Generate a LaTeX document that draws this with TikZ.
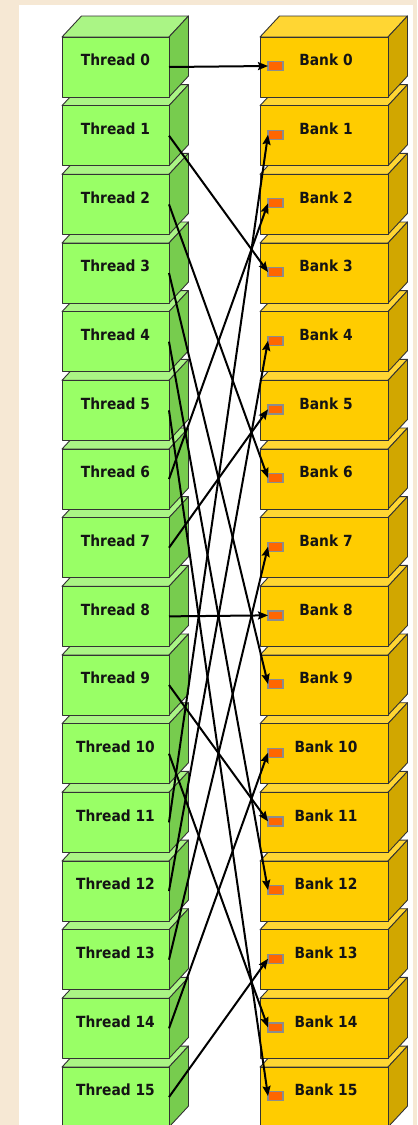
\documentclass[tikz,border=0pt]{standalone}
\usepackage{fontspec}
\setmainfont{DejaVu Sans}[FakeStretch=0.9]
\usetikzlibrary{arrows.meta}
\definecolor{bgbeige}{HTML}{F6E8D4}
\definecolor{gfront}{HTML}{99FF66}
\definecolor{gtopc}{HTML}{AAF585}
\definecolor{gside}{HTML}{77CC4E}
\definecolor{yfront}{HTML}{FFCC00}
\definecolor{ytopc}{HTML}{FFD633}
\definecolor{yside}{HTML}{D1A700}
\definecolor{sqfill}{HTML}{FF6600}
\definecolor{edgec}{HTML}{333333}
\tikzset{
  faceline/.style={draw=edgec, line width=0.9bp, line join=round},
  tfrontbox/.style={faceline, fill=gfront, minimum width=107bp, minimum height=60bp, inner sep=0pt, outer sep=0pt, anchor=north west},
  bfrontbox/.style={faceline, fill=yfront, minimum width=128bp, minimum height=60bp, inner sep=0pt, outer sep=0pt, anchor=north west},
  boxlabel/.style={font=\bfseries\fontsize{15.4}{18}\selectfont, text=black!92, inner sep=0pt},
  banksq/.style={fill=sqfill, draw=black!45, line width=1.3bp, minimum width=15bp, minimum height=9bp, inner sep=0pt, outer sep=0pt},
  conn/.style={draw=black, line width=2bp, -{Stealth[length=10bp, width=8bp, inset=1.5bp]}}
}
\begin{document}
\begin{tikzpicture}[x=1bp,y=-1bp]
\useasboundingbox (0,0) rectangle (417,1125);
\fill[bgbeige] (0,0) rectangle (417,1125);
\fill[white] (19,5) rectangle (413,1125);
\begin{scope}
\clip (0,0) rectangle (417,1125);
\foreach \i in {15,14,...,0} {
  \pgfmathsetmacro\yt{37+68.67*\i}
  % thread box
  \filldraw[faceline, fill=gtopc] (62,\yt) -- ++(19.5,-21) -- ++(107,0) -- (169,\yt) -- cycle;
  \filldraw[faceline, fill=gside] (169,\yt) -- ++(19.5,-21) -- ++(0,60) -- ++(-19.5,21) -- cycle;
  \node[tfrontbox] (t\i) at (62,\yt) {};
  \node[boxlabel] (tl\i) at (115.5,\yt+23) {Thread \i};
  % bank box
  \filldraw[faceline, fill=ytopc] (260,\yt) -- ++(19.5,-21) -- ++(128,0) -- (388,\yt) -- cycle;
  \filldraw[faceline, fill=yside] (388,\yt) -- ++(19.5,-21) -- ++(0,60) -- ++(-19.5,21) -- cycle;
  \node[bfrontbox] (b\i) at (260,\yt) {};
  \node[boxlabel] (bl\i) at (326,\yt+23) {Bank \i};
  \node[banksq] (s\i) at (275.5,\yt+29) {};
}
\foreach \i in {0,...,15} {
  \pgfmathtruncatemacro\j{mod(3*\i,16)}
  \draw[conn] (t\i.east) -- (s\j.west);
}
\end{scope}
\end{tikzpicture}
\end{document}
